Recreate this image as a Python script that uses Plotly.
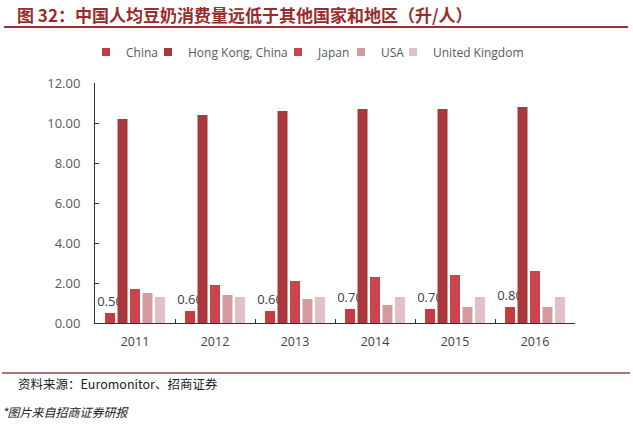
import plotly.graph_objects as go

years = ["2011", "2012", "2013", "2014", "2015", "2016"]
china = [0.5, 0.6, 0.6, 0.7, 0.7, 0.8]
hong_kong = [10.2, 10.4, 10.6, 10.7, 10.7, 10.8]
japan = [1.7, 1.9, 2.1, 2.3, 2.4, 2.6]
usa = [1.5, 1.4, 1.2, 0.9, 0.8, 0.8]
uk = [1.3, 1.3, 1.3, 1.3, 1.3, 1.3]

series = [
    ("China", china, "#c33a41", True),
    ("Hong Kong, China", hong_kong, "#a8383b", False),
    ("Japan", japan, "#c9454b", False),
    ("USA", usa, "#d49a9f", False),
    ("United Kingdom", uk, "#e0c0c4", False),
]
# left edge (px) of each legend box
legend_left_px = [86, 148, 278, 341, 393]

L, R, T, B = 95, 58, 83, 103
W, H = 633, 426
PW, PH = W - L - R, H - T - B

fig = go.Figure()
for name, vals, color, lab in series:
    kw = {}
    if lab:
        kw = dict(texttemplate="%{y:.2f}", textposition="outside",
                  textfont=dict(size=13, color="#404040", family="Open Sans, Arial"),
                  constraintext="none", cliponaxis=False)
    fig.add_trace(go.Bar(x=years, y=vals, name=name, marker=dict(color=color, line=dict(width=0)),
                         hoverinfo="skip", showlegend=False, **kw))

legend_layout = {}
for i, ((name, vals, color, lab), lx) in enumerate(zip(series, legend_left_px)):
    key = "legend" if i == 0 else f"legend{i + 1}"
    fig.add_trace(go.Scatter(x=[None], y=[None], mode="markers", name=name,
                             marker=dict(symbol="square", size=8, color=color),
                             legend=key, showlegend=True, hoverinfo="skip"))
    legend_layout[key] = dict(orientation="h", xref="paper", yref="paper",
                              x=(lx - L) / PW, xanchor="left",
                              y=(T + PH - 52) / PH, yanchor="middle",
                              font=dict(size=12, color="#595959", family="Open Sans, Arial"),
                              bgcolor="rgba(0,0,0,0)", borderwidth=0)

fig.update_layout(
    width=W, height=H,
    margin=dict(l=L, r=R, t=T, b=B, autoexpand=False),
    paper_bgcolor="white", plot_bgcolor="white",
    barmode="group", bargap=0.22, bargroupgap=0.2,
    font=dict(family="Open Sans, Arial", size=12, color="#595959"),
    showlegend=True,
    xaxis=dict(showline=True, linecolor="#333333", linewidth=1, ticks="inside",
               tickson="boundaries", ticklen=4, tickcolor="#333333", ticklabelstandoff=7,
               tickfont=dict(size=12.5, color="#404040"), showgrid=False),
    yaxis=dict(range=[0, 12], dtick=2, tickformat=".2f", showline=True, linecolor="#333333",
               linewidth=1, ticks="inside", ticklen=4, tickcolor="#333333", showgrid=False,
               ticklabelstandoff=11,
               zeroline=False, tickfont=dict(size=13, color="#595959")),
    **legend_layout,
)

def px_x(px):
    return (px - L) / PW

def px_y(py):
    return (T + PH - py) / PH

fig.add_annotation(text="<b>图 32：中国人均豆奶消费量远低于其他国家和地区（升/人）</b>",
                   xref="paper", yref="paper", x=px_x(15), y=px_y(15),
                   xanchor="left", yanchor="middle", showarrow=False,
                   font=dict(size=17, color="#9a2b2b", family="Noto Sans CJK SC"))
fig.add_shape(type="line", xref="paper", yref="paper",
              x0=px_x(4), x1=px_x(628), y0=px_y(27), y1=px_y(27),
              line=dict(color="#9b3035", width=2))
fig.add_shape(type="line", xref="paper", yref="paper",
              x0=px_x(2), x1=px_x(630), y0=px_y(373), y1=px_y(373),
              line=dict(color="#8c4a4e", width=1.5))
fig.add_annotation(text="资料来源：Euromonitor、招商证券",
                   xref="paper", yref="paper", x=px_x(16), y=px_y(383),
                   xanchor="left", yanchor="middle", showarrow=False,
                   font=dict(size=12.5, color="#222222", family="Noto Sans CJK SC"))
fig.add_annotation(text="<i>*图片来自招商证券研报</i>",
                   xref="paper", yref="paper", x=px_x(0), y=px_y(411),
                   xanchor="left", yanchor="middle", showarrow=False,
                   font=dict(size=12, color="#222222", family="Noto Sans CJK SC"))

fig.write_html("out.html", config={"displayModeBar": False},
               post_script="document.body.style.margin='0';")
